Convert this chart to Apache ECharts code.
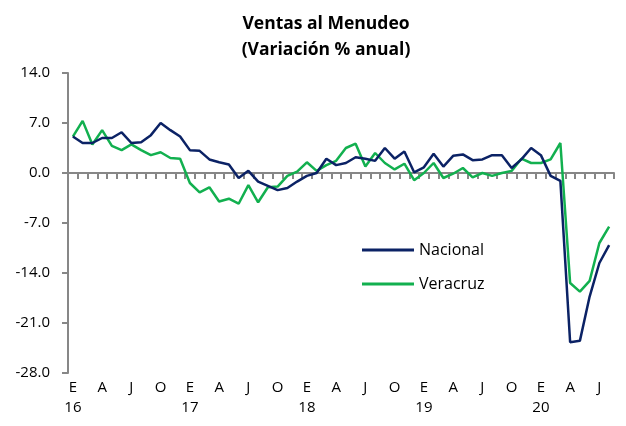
<!DOCTYPE html>
<html>
<head>
<meta charset="utf-8">
<script src="https://cdn.jsdelivr.net/npm/echarts@6/dist/echarts.min.js"></script>
<style>
    html, body { margin: 0; padding: 0; background: #fff; }
    #chart { width: 626px; height: 426px; }
</style>
</head>
<body>
<div id="chart"></div>
<script>
// months Jan 2016 .. Aug 2020
var categories = [
    '2016-01','2016-02','2016-03','2016-04','2016-05','2016-06','2016-07','2016-08','2016-09','2016-10','2016-11','2016-12',
    '2017-01','2017-02','2017-03','2017-04','2017-05','2017-06','2017-07','2017-08','2017-09','2017-10','2017-11','2017-12',
    '2018-01','2018-02','2018-03','2018-04','2018-05','2018-06','2018-07','2018-08','2018-09','2018-10','2018-11','2018-12',
    '2019-01','2019-02','2019-03','2019-04','2019-05','2019-06','2019-07','2019-08','2019-09','2019-10','2019-11','2019-12',
    '2020-01','2020-02','2020-03','2020-04','2020-05','2020-06','2020-07','2020-08'
];
var monthLetters = ['E','F','M','A','M','J','J','A','S','O','N','D'];

var nacional = [
    5.1, 4.2, 4.2, 4.9, 4.9, 5.7, 4.2, 4.3, 5.3, 7.0, 6.0, 5.1,
    3.2, 3.1, 1.9, 1.5, 1.2, -0.7, 0.3, -1.2, -1.8, -2.4, -2.1, -1.2,
    -0.4, 0.0, 2.0, 1.1, 1.4, 2.2, 2.0, 1.7, 3.5, 2.0, 3.0, 0.1,
    0.8, 2.7, 0.9, 2.4, 2.6, 1.8, 1.9, 2.5, 2.5, 0.7, 1.9, 3.5,
    2.5, -0.4, -1.1, -23.7, -23.5, -17.3, -12.6, -10.1
];
var veracruz = [
    5.1, 7.3, 4.0, 6.0, 3.8, 3.2, 4.0, 3.2, 2.5, 2.9, 2.1, 2.0,
    -1.4, -2.7, -2.0, -4.0, -3.6, -4.3, -1.7, -4.1, -2.0, -1.9, -0.4, 0.2,
    1.5, 0.3, 1.1, 1.7, 3.5, 4.1, 0.9, 2.8, 1.4, 0.5, 1.3, -1.0,
    0.0, 1.4, -0.7, -0.1, 0.7, -0.6, 0.0, -0.4, 0.0, 0.3, 2.0, 1.4,
    1.4, 1.9, 4.2, -15.4, -16.6, -15.1, -9.8, -7.5
];

var yTicks = {min: -28, max: 14, step: 7};

var fontName = '"Open Sans"';
var axisGray = '#878787';

function monthLabel(value) {
    var parts = value.split('-');
    var m = parseInt(parts[1], 10) - 1;
    var str = monthLetters[m];
    if (m == 0) {
        str += '\n' + parts[0].slice(2);
    }
    return str;
}

var myChart = echarts.init(document.getElementById('chart'), null, {renderer: 'canvas'});
var option = {
    animation: false,
    title: {
        text: 'Ventas al Menudeo\n(Variación % anual)',
        left: 321,
        textAlign: 'center',
        top: 6,
        textStyle: {
            fontFamily: fontName,
            fontWeight: 'bold',
            fontSize: 17.5,
            lineHeight: 26,
            color: '#000'
        }
    },
    legend: {
        orient: 'vertical',
        left: 357,
        top: 237,
        itemWidth: 52,
        itemHeight: 3,
        itemGap: 18,
        icon: 'rect',
        textStyle: {
            fontFamily: fontName,
            fontSize: 16,
            color: '#000'
        },
        data: ['Nacional', 'Veracruz']
    },
    grid: {
        left: 68,
        right: 12,
        top: 73,
        bottom: 53
    },
    xAxis: [{
        type: 'category',
        data: categories,
        boundaryGap: true,
        axisLine: {onZero: true, lineStyle: {color: axisGray, width: 2}},
        axisTick: {show: true, interval: 0, length: 6, lineStyle: {color: axisGray, width: 2}},
        axisLabel: {show: false},
        splitLine: {show: false}
    }, {
        type: 'category',
        data: categories,
        position: 'bottom',
        boundaryGap: true,
        axisLine: {show: false, onZero: false},
        axisTick: {show: false},
        axisLabel: {
            show: true,
            interval: 2,
            margin: 5,
            fontFamily: fontName,
            fontSize: 15,
            lineHeight: 20,
            color: '#000',
            formatter: monthLabel
        },
        splitLine: {show: false}
    }],
    yAxis: {
        type: 'value',
        min: yTicks.min,
        max: yTicks.max,
        interval: yTicks.step,
        axisLine: {show: true, lineStyle: {color: axisGray, width: 2}},
        axisTick: {show: true, length: 6, lineStyle: {color: axisGray, width: 2}},
        splitLine: {show: false},
        axisLabel: {
            margin: 18,
            fontFamily: fontName,
            fontSize: 15,
            color: '#000',
            formatter: function(v) { return v.toFixed(1); }
        }
    },
    series: [{
        name: 'Nacional',
        type: 'line',
        xAxisIndex: 0,
        data: nacional,
        symbol: 'none',
        lineStyle: {color: '#0b2265', width: 2.5},
        itemStyle: {color: '#0b2265'},
        z: 3
    }, {
        name: 'Veracruz',
        type: 'line',
        xAxisIndex: 0,
        data: veracruz,
        symbol: 'none',
        lineStyle: {color: '#12b04f', width: 2.5},
        itemStyle: {color: '#12b04f'},
        z: 2
    }]
};
myChart.setOption(option);
</script>
</body>
</html>
